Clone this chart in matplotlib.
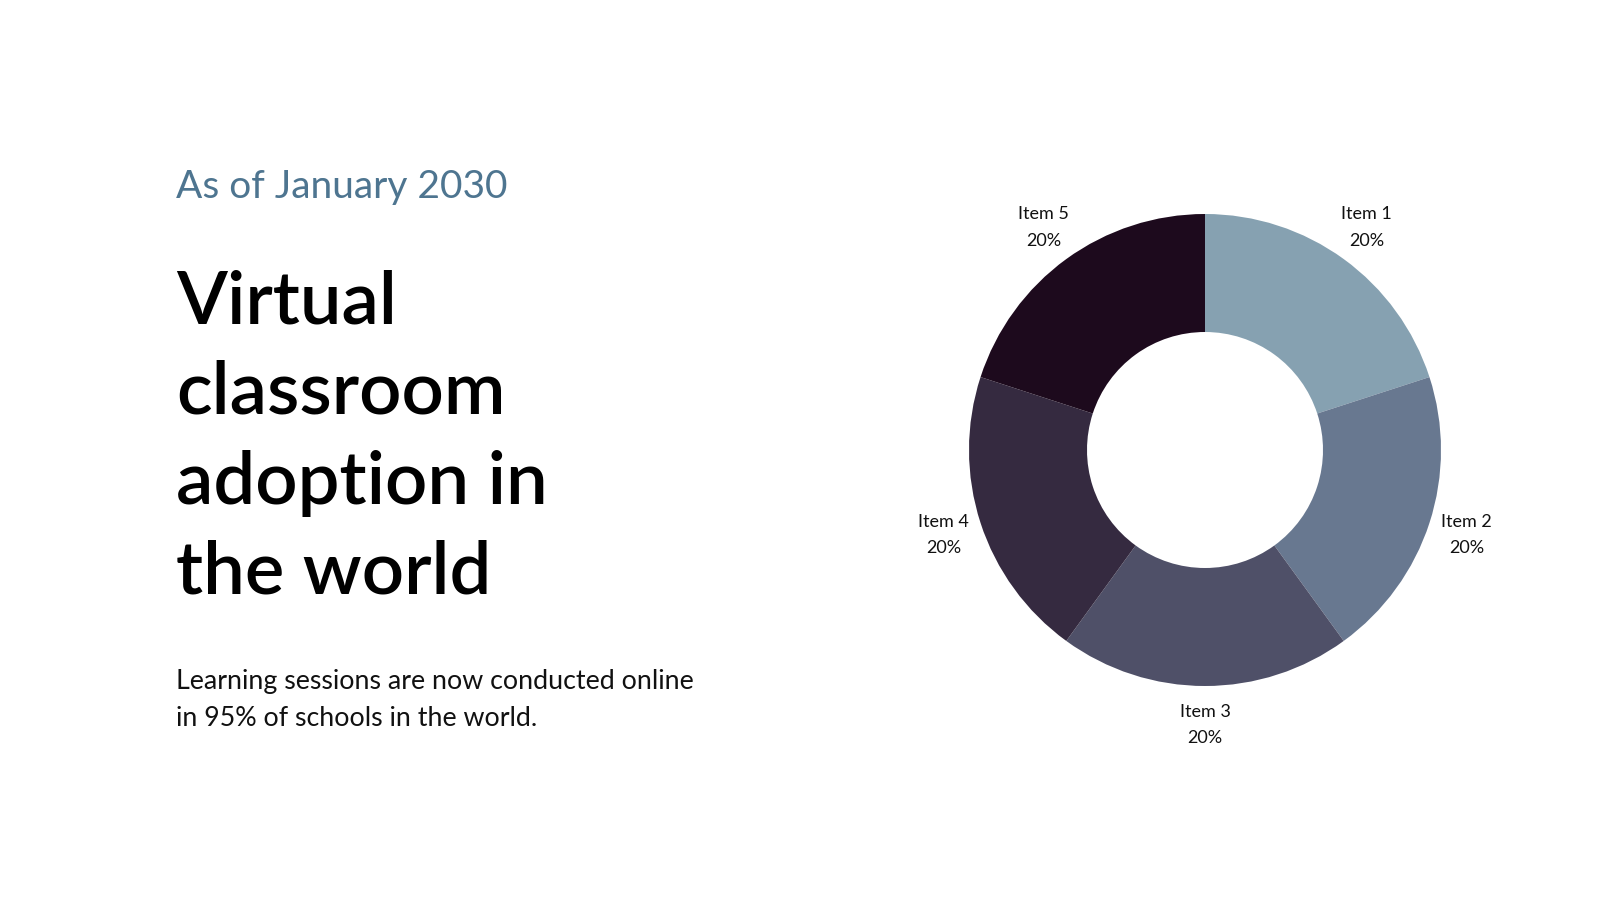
import matplotlib.pyplot as plt

items = ['Item 1', 'Item 2', 'Item 3', 'Item 4', 'Item 5']
shares = [20, 20, 20, 20, 20]
colors = ['#86a1b1', '#687890', '#4f5068', '#352a40', '#1d0a1d']

kicker = 'As of January 2030'
title_lines = ['Virtual', 'classroom', 'adoption in', 'the world']
body_lines = ['Learning sessions are now conducted online',
              'in 95% of schools in the world.']

plt.rcParams['font.family'] = ['Lato', 'DejaVu Sans']

W, H = 1600, 900
fig = plt.figure(figsize=(16, 9), dpi=100)
fig.patch.set_facecolor('white')

# donut, centre at about (1205, 450) px, outer radius 236 px
side = 600
ax = fig.add_axes([(1205 - side / 2) / W, (H - 450 - side / 2) / H, side / W, side / H])
labels = [f'{n}\n{v}%' for n, v in zip(items, shares)]
wedges, texts = ax.pie(shares, colors=colors, startangle=90, counterclock=False,
                       labels=labels, labeldistance=1.165,
                       wedgeprops=dict(width=0.5, linewidth=0),
                       textprops=dict(fontsize=13, color='#111111', linespacing=1.8))
for t in texts:
    t.set_ha('center')
    t.set_va('center')
    t.set_multialignment('center')
lim = side / 2 / 236
ax.set_xlim(-lim, lim)
ax.set_ylim(-lim, lim)
ax.set_aspect('equal')
ax.axis('off')

x0 = 176 / W
fig.text(x0, 1 - 198 / H, kicker, fontsize=28, color='#4e7590', va='baseline')

y = 324
for line in title_lines:
    fig.text(x0, 1 - y / H, line, fontsize=53.5, fontweight='semibold', color='black', va='baseline')
    y += 90

y = 689
for line in body_lines:
    fig.text(x0, 1 - y / H, line, fontsize=19.3, color='#111111', va='baseline')
    y += 37

fig.savefig('out.png', dpi=100, facecolor='white')
